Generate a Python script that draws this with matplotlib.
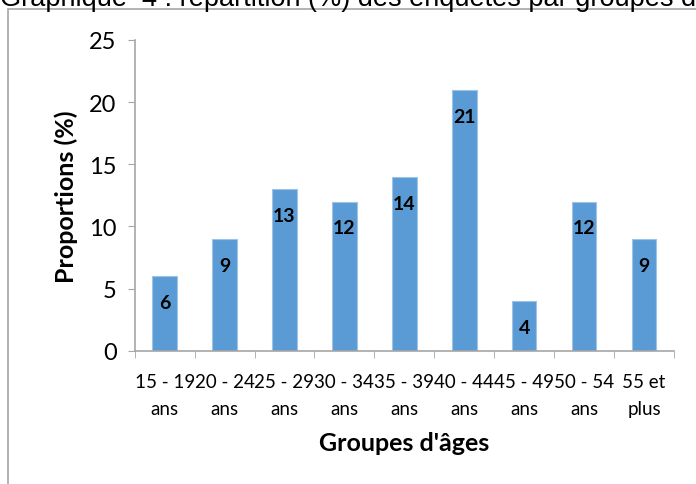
import matplotlib
matplotlib.use("Agg")
import matplotlib.pyplot as plt
from matplotlib.patches import Rectangle

# Data
groupes = ["15 - 19\nans", "20 - 24\nans", "25 - 29\nans", "30 - 34\nans",
           "35 - 39\nans", "40 - 44\nans", "45 - 49\nans", "50 - 54\nans",
           "55 et\nplus"]
proportions = [6, 9, 13, 12, 14, 21, 4, 12, 9]

titre = "Graphique  4 : répartition (%) des enquêtés par groupes d'âges"

plt.rcParams["font.family"] = ["Lato", "DejaVu Sans"]

fig = plt.figure(figsize=(6.96, 4.85), dpi=100)
ax = fig.add_axes([0.1935, 0.2748, 0.9684 - 0.1935, 0.9155 - 0.2748])

# outer frame (cut off on the right and bottom)
fig.patches.append(Rectangle((8 / 696, -0.1), 1.2, 1.1 - 10 / 485,
                             transform=fig.transFigure, fill=False,
                             edgecolor="#a6a6a6", linewidth=1.2))

# clipped title at the very top
fig.text(0.0, 1 - 6 / 485, titre, fontsize=19.5, family="Liberation Sans",
         ha="left", va="baseline")

x = list(range(len(groupes)))
bars = ax.bar(x, proportions, width=0.41, color="#5b9bd5",
              edgecolor="#9dc3e6", linewidth=0.8, zorder=2)

for xi, v in zip(x, proportions):
    ax.annotate(str(v), (xi, v), xytext=(0, -19), textcoords="offset points",
                ha="center", va="center", fontsize=14, fontweight="bold")

ax.set_xlim(-0.5, len(groupes) - 0.5)
ax.set_ylim(0, 25)
ax.set_yticks([0, 5, 10, 15, 20, 25])
ax.tick_params(axis="y", labelsize=17, length=5, color="#a6a6a6", pad=8)

# category labels centred, tick marks at the boundaries
ax.set_xticks(x)
ax.set_xticklabels(groupes, fontsize=13.5, linespacing=1.7)
ax.tick_params(axis="x", which="major", length=0, pad=16)
ax.set_xticks([i - 0.5 for i in range(len(groupes) + 1)], minor=True)
ax.tick_params(axis="x", which="minor", length=5, color="#a6a6a6")

for s in ["top", "right"]:
    ax.spines[s].set_visible(False)
for s in ["left", "bottom"]:
    ax.spines[s].set_color("#a6a6a6")
    ax.spines[s].set_linewidth(1.2)

ax.set_ylabel("Proportions (%)", fontsize=18, fontweight="bold", labelpad=8)
ax.set_xlabel("Groupes d'âges", fontsize=18, fontweight="bold", labelpad=10)

fig.savefig("out.png", dpi=100)
